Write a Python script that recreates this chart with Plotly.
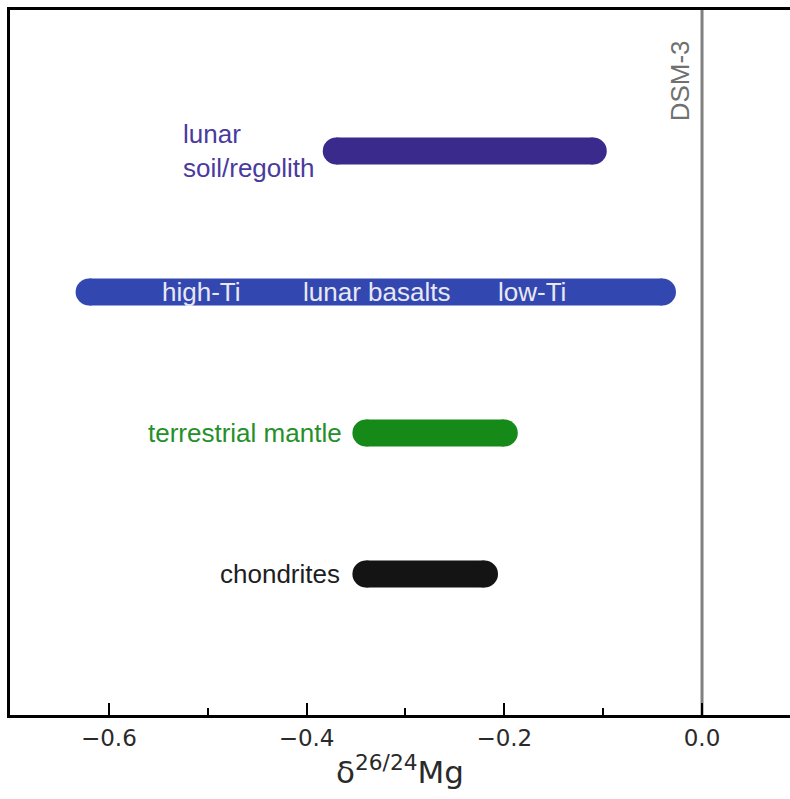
import plotly.graph_objects as go

# Data
groups = ["chondrites", "terrestrial mantle", "lunar basalts", "lunar soil/regolith"]
y_pos = [1, 2, 3, 4]
x_min = [-0.34, -0.34, -0.62, -0.37]
x_max = [-0.22, -0.20, -0.04, -0.11]
colors = ["#141414", "#168a18", "#3347b1", "#3a2a8c"]
ref_x = 0.0
ref_label = "DSM-3"

BAR_W = 27

fig = go.Figure()
for g, y, a, b, c in zip(groups, y_pos, x_min, x_max, colors):
    fig.add_trace(go.Scatter(
        x=[a, b], y=[y, y], mode="lines+markers",
        line=dict(color=c, width=BAR_W),
        marker=dict(color=c, size=BAR_W, line=dict(width=0)),
        name=g, showlegend=False, hoverinfo="skip"))

fig.add_shape(type="line", x0=ref_x, x1=ref_x, y0=0, y1=1, yref="paper",
              line=dict(color="#808080", width=3), layer="below")

lab_font = "Liberation Sans, Arial, sans-serif"
ann = [
    dict(x=-0.527, y=4, text="lunar<br>soil/regolith", xanchor="left", align="left",
         font=dict(color="#4a3a9e", size=26)),
    dict(x=-0.362, y=2, text="terrestrial mantle", xanchor="right",
         font=dict(color="#25902a", size=26)),
    dict(x=-0.364, y=1, text="chondrites", xanchor="right",
         font=dict(color="#1e1e1e", size=26)),
    dict(x=-0.506, y=3, text="high-Ti", xanchor="center",
         font=dict(color="#e8e8f2", size=26)),
    dict(x=-0.329, y=3, text="lunar basalts", xanchor="center",
         font=dict(color="#e8e8f2", size=26)),
    dict(x=-0.172, y=3, text="low-Ti", xanchor="center",
         font=dict(color="#e8e8f2", size=26)),
    dict(x=-0.022, y=4.496, text=ref_label, textangle=-90, xanchor="center",
         font=dict(color="#707070", size=26)),
]
for a in ann:
    a.update(showarrow=False, yanchor="middle", xref="x", yref="y")
    a["font"]["family"] = lab_font
    fig.add_annotation(**a)

fig.update_layout(
    width=790, height=799,
    margin=dict(l=10, r=0, t=10, b=84),
    plot_bgcolor="white", paper_bgcolor="white",
    xaxis=dict(range=[-0.7, 0.089], showgrid=False, zeroline=False,
               showline=True, linecolor="black", linewidth=3, mirror=True,
               ticks="inside", ticklen=12, tickwidth=2, tickcolor="black",
               tickmode="linear", tick0=0, dtick=0.2, tickformat=".1f",
               minor=dict(ticks="inside", ticklen=7, tickwidth=2, tickcolor="black",
                          tick0=0, dtick=0.1, showgrid=False),
               tickfont=dict(family="DejaVu Sans", size=23, color="#2a2a2a"),
               title=dict(text="\u03b4<sup>26/24</sup>Mg", standoff=12,
                          font=dict(family="DejaVu Sans", size=31, color="#2a2a2a"))),
    yaxis=dict(range=[0, 5], showgrid=False, zeroline=False, showticklabels=False,
               showline=True, linecolor="black", linewidth=3, mirror=False, ticks=""),
)

page_css = ("document.documentElement.style.overflow='hidden';"
            "document.body.style.margin='0';"
            "document.body.style.overflow='hidden';")
fig.write_html("out.html", post_script=page_css,
               config={"displayModeBar": False, "staticPlot": True})
